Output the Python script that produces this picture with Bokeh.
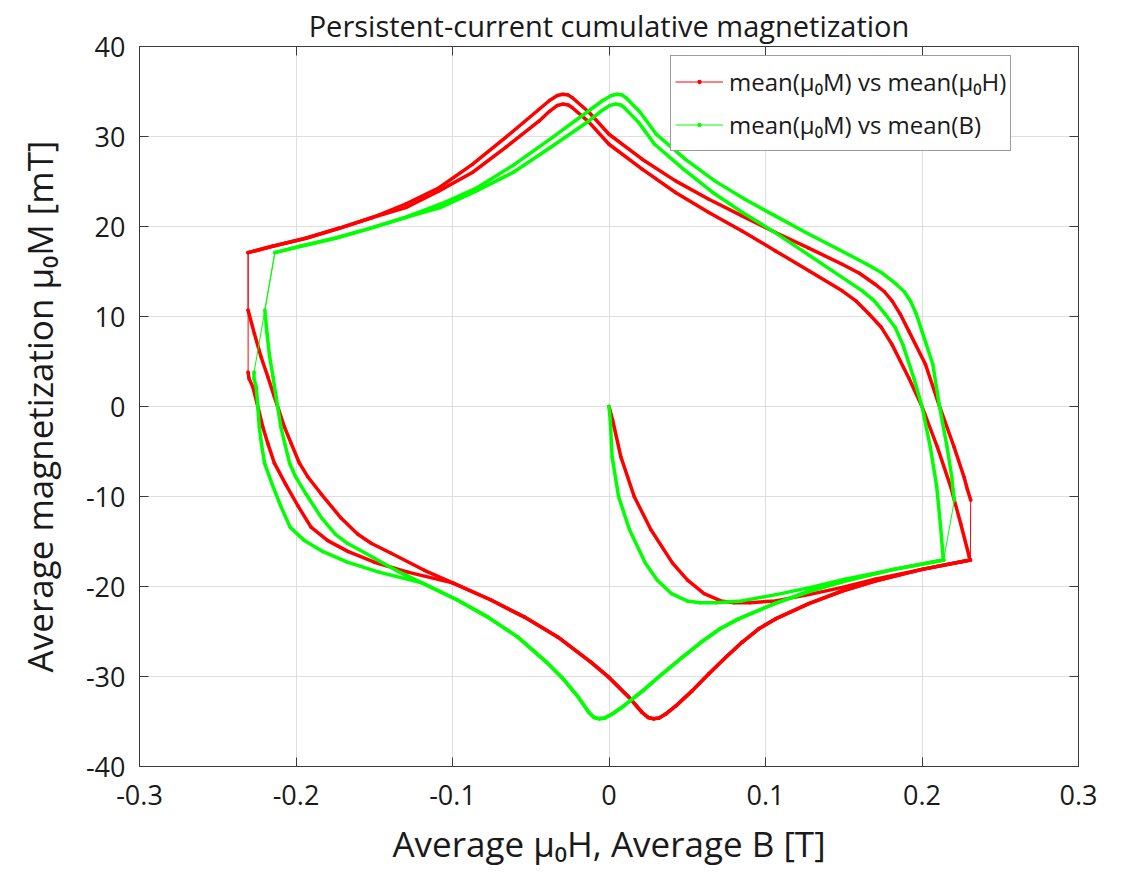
from bokeh.plotting import figure
from bokeh.models import Range1d, FixedTicker, LinearAxis, Legend, LegendItem
from bokeh.embed import file_html
from bokeh.resources import INLINE

# ---------------- data ----------------
title_text = "Persistent-current cumulative magnetization"
x_label = "Average \u03bc\u2080H, Average B [T]"
y_label = "Average magnetization \u03bc\u2080M [mT]"
label_H = "mean(\u03bc\u2080M) vs mean(\u03bc\u2080H)"
label_B = "mean(\u03bc\u2080M) vs mean(B)"

x_ticks = [-0.3, -0.2, -0.1, 0, 0.1, 0.2, 0.3]
x_tick_labels = ["-0.3", "-0.2", "-0.1", "0", "0.1", "0.2", "0.3"]
y_ticks = [-40, -30, -20, -10, 0, 10, 20, 30, 40]
y_tick_labels = ["-40", "-30", "-20", "-10", "0", "10", "20", "30", "40"]

# mean(mu0 H) [T] and mean(mu0 M) [mT], read branch by branch
# initial magnetization curve
init_H = [0.0, 0.0023, 0.0076, 0.0161, 0.0268, 0.0406, 0.0502, 0.0608, 0.0715, 0.080,
          0.0900, 0.1064, 0.1277, 0.149, 0.170, 0.200, 0.2309]
init_M = [0.0, -1.5, -5.6, -10.0, -13.7, -17.4, -19.3, -20.8, -21.6, -21.8,
          -21.8, -21.6, -20.9, -20.1, -19.2, -18.1, -17.05]

# descending field, inner branch (starts at the right corner)
up_in_H = [0.2302, 0.2247, 0.2183, 0.2098, 0.2000, 0.1915, 0.1808, 0.174, 0.166, 0.158,
           0.149, 0.1277, 0.1064, 0.085, 0.0638, 0.0425, 0.0212, 0.0, -0.0128, -0.0234,
           -0.026, -0.0295, -0.033, -0.038, -0.0448, -0.066, -0.0873, -0.1086, -0.1299]
up_in_M = [-16.7, -13.0, -8.9, -4.5, 0.0, 3.2, 6.9, 8.8, 10.3, 11.7,
           12.85, 15.07, 17.29, 19.51, 21.55, 23.78, 26.37, 29.14, 31.6, 33.2,
           33.5, 33.6, 33.45, 32.8, 31.7, 28.8, 26.0, 23.96, 22.1]

# descending field, outer branch (starts after the jump at the right edge)
up_out_H = [0.2311, 0.2290, 0.2268, 0.2205, 0.2107, 0.2022, 0.1915, 0.186, 0.181, 0.176,
            0.170, 0.160, 0.149, 0.1277, 0.1064, 0.085, 0.0638, 0.0425, 0.0212, 0.0,
            -0.0128, -0.0234, -0.026, -0.0295, -0.033, -0.038, -0.0448, -0.066, -0.0873,
            -0.1086, -0.1299]
up_out_M = [-10.4, -9.2, -7.8, -4.5, 0.26, 4.7, 8.4, 10.3, 11.7, 12.75,
            13.59, 14.8, 15.81, 17.59, 19.33, 21.18, 23.03, 25.07, 27.48, 30.25,
            32.7, 34.3, 34.6, 34.7, 34.55, 34.0, 33.0, 29.9, 26.9,
            24.3, 22.5]

# shared upper-left part
up_left_H = [-0.1512, -0.1725, -0.1937, -0.215, -0.2306]
up_left_M = [21.0, 19.8, 18.7, 17.8, 17.1]

# ascending field, inner branch (after the jump to about 10.7 mT)
low_in_H = [-0.2306, -0.2266, -0.2223, -0.218, -0.2138, -0.2074, -0.2031, -0.1978, -0.1925,
            -0.184, -0.1712, -0.1605, -0.152, -0.1392, -0.118]
low_in_M = [10.7, 8.1, 5.5, 3.3, 1.07, -2.27, -4.1, -6.3, -7.8,
            -9.7, -12.4, -14.2, -15.2, -16.3, -18.2]

# ascending field, outer branch (after the jump to about 3.8 mT)
low_out_H = [-0.2306, -0.2300, -0.2276, -0.2244, -0.2212, -0.218, -0.2138, -0.2064, -0.1989,
             -0.1904, -0.1797, -0.1669, -0.1499, -0.1286]
low_out_M = [3.8, 3.1, 2.18, 0.0, -2.27, -4.1, -6.3, -8.7, -11.0,
             -13.4, -14.9, -16.1, -17.3, -18.4]

# shared lower part through the minimum to the right corner
low_main_H = [-0.0999, -0.0754, -0.054, -0.0328, -0.0116, 0.0, 0.0127, 0.0212, 0.025, 0.0285,
              0.032, 0.036, 0.0425, 0.0531, 0.0638, 0.0745, 0.085, 0.0957, 0.1064, 0.1277,
              0.149, 0.170, 0.200, 0.2309]
low_main_M = [-19.6, -21.5, -23.4, -25.6, -28.4, -30.1, -32.3, -34.0, -34.55, -34.7,
              -34.6, -34.2, -33.3, -31.6, -29.7, -27.9, -26.2, -24.7, -23.6, -21.9,
              -20.5, -19.4, -18.1, -17.05]

# ---------------- assemble the sweep ----------------
branches_H = [init_H, up_in_H + up_left_H, low_in_H + low_main_H,
              up_out_H + up_left_H, low_out_H + low_main_H]
branches_M = [init_M, up_in_M + up_left_M, low_in_M + low_main_M,
              up_out_M + up_left_M, low_out_M + low_main_M]
# mean(B) = mean(mu0 H) + mean(mu0 M)   (M in mT -> T)
branches_B = [[h + m / 1000.0 for h, m in zip(bh, bm)] for bh, bm in zip(branches_H, branches_M)]

all_H = [v for b in branches_H for v in b]
all_B = [v for b in branches_B for v in b]
all_M = [v for b in branches_M for v in b]

FONT = "Open Sans"
TXT = "#1a1a1a"
AX = "#3a3a3a"

p = figure(width=1127, height=880, output_backend="svg", toolbar_location=None,
           x_range=Range1d(-0.3, 0.3), y_range=Range1d(-40, 40),
           min_border_left=139, min_border_right=49, min_border_top=46, min_border_bottom=114,
           title=title_text)
p.background_fill_color = "white"
p.border_fill_color = "white"
p.outline_line_color = AX
p.outline_line_width = 1

p.title.text_font = FONT
p.title.text_font_size = "29px"
p.title.text_font_style = "normal"
p.title.text_color = TXT
p.title.align = "center"
p.title.vertical_align = "middle"
p.title.standoff = 2

xt = FixedTicker(ticks=x_ticks)
yt = FixedTicker(ticks=y_ticks)

def style_axis(ax, labels=True):
    ax.major_tick_in = 9
    ax.major_tick_out = 0
    ax.minor_tick_line_color = None
    ax.axis_line_color = AX
    ax.major_tick_line_color = AX
    if labels:
        ax.major_label_text_font = FONT
        ax.major_label_text_font_size = "27px"
        ax.major_label_text_color = TXT
        ax.axis_label_text_font = FONT
        ax.axis_label_text_font_size = "35px"
        ax.axis_label_text_font_style = "normal"
        ax.axis_label_text_color = TXT
    else:
        ax.major_label_text_font_size = "1px"
        ax.major_label_text_color = None

p.xaxis.ticker = xt
p.yaxis.ticker = yt
p.xaxis.major_label_overrides = dict(zip(x_ticks, x_tick_labels))
p.yaxis.major_label_overrides = dict(zip(y_ticks, y_tick_labels))
p.xaxis.axis_label = x_label
p.yaxis.axis_label = y_label
style_axis(p.xaxis[0])
style_axis(p.yaxis[0])
p.xaxis.major_label_standoff = 18
p.yaxis.major_label_standoff = 14
p.xaxis.axis_label_standoff = 12
p.yaxis.axis_label_standoff = 20

top = LinearAxis(ticker=xt)
right = LinearAxis(ticker=yt)
style_axis(top, labels=False)
style_axis(right, labels=False)
top.major_label_standoff = 0
right.major_label_standoff = 0
p.add_layout(top, "above")
p.add_layout(right, "right")

p.xgrid.ticker = xt
p.ygrid.ticker = yt
p.xgrid.grid_line_color = "#dedede"
p.ygrid.grid_line_color = "#dedede"

items = []
for xs_all, xs_br, col, lab in [(all_H, branches_H, "#ff0000", label_H),
                                 (all_B, branches_B, "#00ff00", label_B)]:
    thin = p.line(xs_all, all_M, line_color=col, line_width=1)
    p.multi_line(xs=xs_br, ys=branches_M, line_color=col, line_width=3.5,
                 line_join="round", line_cap="round")
    dots = p.scatter(xs_all, all_M, marker="dot", size=14, color=col)
    items.append(LegendItem(label=lab, renderers=[thin, dots]))

legend = Legend(items=items, location=(531, 615))
legend.label_text_font = FONT
legend.label_text_font_size = "24px"
legend.label_text_color = TXT
legend.glyph_width = 48
legend.glyph_height = 43
legend.label_height = 43
legend.label_standoff = 6
legend.padding = 4
legend.spacing = 0
legend.margin = 0
legend.border_line_color = AX
legend.border_line_width = 1
legend.background_fill_color = "white"
legend.background_fill_alpha = 1
p.add_layout(legend)

open("out.html", "w").write(file_html(p, INLINE))
